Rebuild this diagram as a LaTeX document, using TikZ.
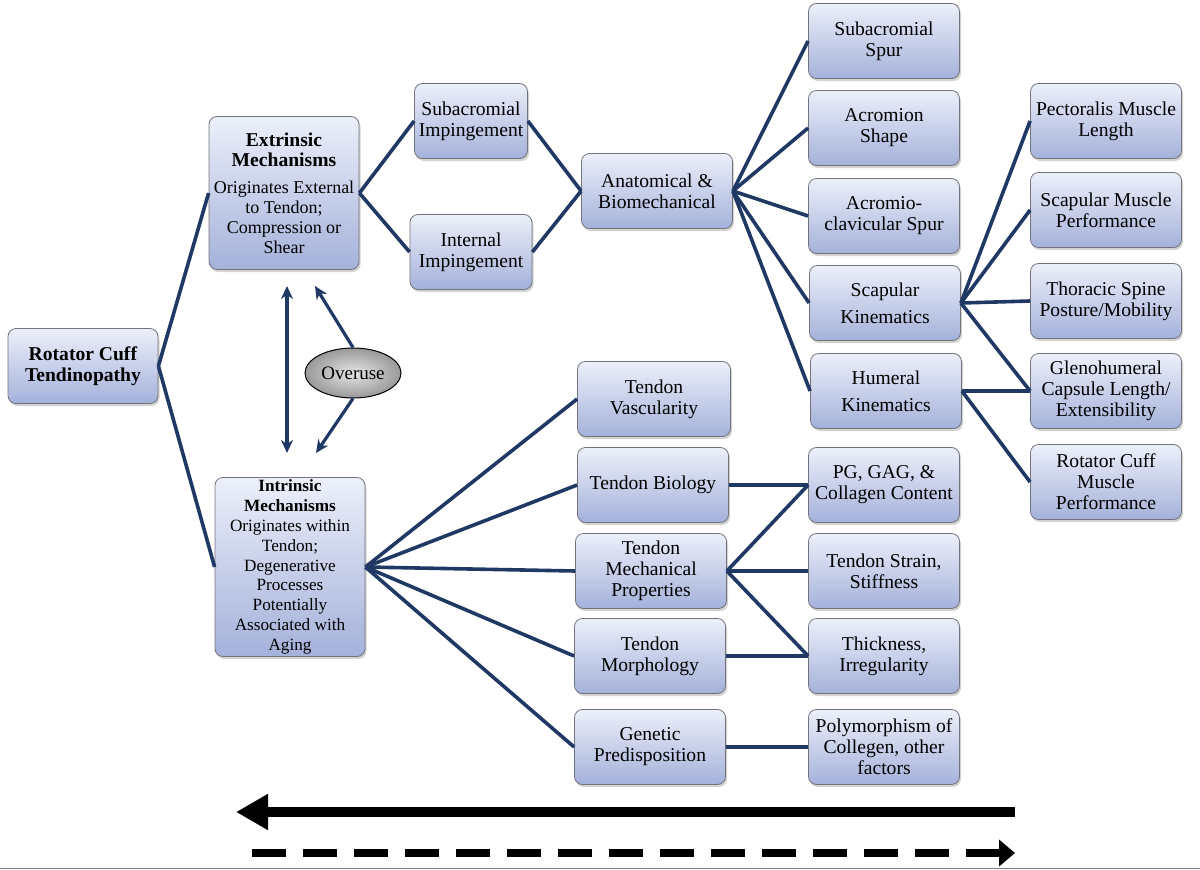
\documentclass[tikz,border=0pt]{standalone}
\usepackage{fontspec}
\setmainfont{Liberation Serif}
\usetikzlibrary{shadows,arrows.meta,shapes.geometric}
\definecolor{navy}{RGB}{31,56,100}
\definecolor{boxtop}{RGB}{236,240,250}
\definecolor{boxbot}{RGB}{164,177,218}
\definecolor{boxline}{RGB}{115,115,125}
\newcommand{\bigbf}[1]{\textbf{\fontsize{19.6}{20}\selectfont #1}}
\tikzset{
  box/.style={draw=boxline, line width=0.8pt, rounded corners=8pt,
    top color=boxtop, bottom color=boxbot, minimum width=151pt, minimum height=75pt,
    align=center, inner sep=1pt, text=black,
    drop shadow={opacity=0.35, shadow xshift=1.5pt, shadow yshift=-2.5pt},
    font=\fontsize{19.6}{21}\selectfont},
  link/.style={draw=navy, line width=3.6pt},
  navarrow/.style={draw=navy, line width=3.2pt},
  ovalstyle/.style={ellipse, draw=black, line width=1pt, minimum width=96pt, minimum height=50pt,
    inner color=gray!20, outer color=gray!80, inner sep=0pt, font=\fontsize{19}{21}\selectfont}
}
\begin{document}
\begin{tikzpicture}[x=1pt,y=-1pt]
\useasboundingbox (0,0) rectangle (1200,870);
% nodes
\node[box, minimum width=150pt] (rct) at (83,366) {\textbf{Rotator Cuff}\\\textbf{Tendinopathy}};
\node[box, minimum width=150pt, minimum height=153pt, font=\fontsize{18}{20}\selectfont] (ext) at (284,193) {\bigbf{Extrinsic}\\\bigbf{Mechanisms}\\[7pt]Originates External\\to Tendon;\\Compression or\\Shear};
\node[box, minimum width=150pt, minimum height=179pt, font=\fontsize{17.2}{19.8}\selectfont] (intr) at (290,567) {\textbf{Intrinsic}\\\textbf{Mechanisms}\\Originates within\\Tendon;\\Degenerative\\Processes\\Potentially\\Associated with\\Aging};
\node[box, minimum width=113pt] (subimp) at (471,121) {Subacromial\\Impingement};
\node[box, minimum width=122pt] (intimp) at (471,252) {Internal\\Impingement};
\node[box] (anat) at (657,191) {Anatomical \&\\Biomechanical};
\node[box] (sspur) at (884,41) {Subacromial\\Spur};
\node[box] (ashape) at (884,128) {Acromion\\Shape};
\node[box] (acspur) at (884,216) {Acromio-\\clavicular Spur};
\node[box] (scap) at (885,303) {Scapular\\[6pt]Kinematics};
\node[box] (hum) at (886,391) {Humeral\\[6pt]Kinematics};
\node[box] (pect) at (1106,121) {Pectoralis Muscle\\Length};
\node[box] (smp) at (1106,210) {Scapular Muscle\\Performance};
\node[box] (thor) at (1106,301) {Thoracic Spine\\Posture/Mobility};
\node[box] (gleno) at (1106,391) {Glenohumeral\\Capsule Length/\\Extensibility};
\node[box] (rcmp) at (1106,482) {Rotator Cuff\\Muscle\\Performance};
\node[box, minimum width=153pt] (tvasc) at (654,399) {Tendon\\Vascularity};
\node[box] (tbio) at (653,485) {Tendon Biology};
\node[box] (tmech) at (651,571) {Tendon\\Mechanical\\Properties};
\node[box] (tmorph) at (650,656) {Tendon\\Morphology};
\node[box] (tgen) at (650,747) {Genetic\\Predisposition};
\node[box] (pg) at (884,485) {PG, GAG, \&\\Collagen Content};
\node[box] (strain) at (884,571) {Tendon Strain,\\Stiffness};
\node[box] (thick) at (884,656) {Thickness,\\Irregularity};
\node[box] (poly) at (884,747) {Polymorphism of\\Collegen, other\\factors};
\node[ovalstyle] (ov) at (353,373) {Overuse};
% connectors
\draw[link] (rct.east) -- (ext.west);
\draw[link] (rct.east) -- (intr.west);
\draw[link] (ext.east) -- (subimp.west);
\draw[link] (ext.east) -- (intimp.west);
\draw[link] (subimp.east) -- (anat.west);
\draw[link] (intimp.east) -- (anat.west);
\foreach \t in {sspur,ashape,acspur,scap,hum} \draw[link] (anat.east) -- (\t.west);
\foreach \t in {pect,smp,thor,gleno} \draw[link] (scap.east) -- (\t.west);
\draw[link] (hum.east) -- (gleno.west);
\draw[link] (hum.east) -- (rcmp.west);
\foreach \t in {tvasc,tbio,tmech,tmorph,tgen} \draw[link] (intr.east) -- (\t.west);
\draw[link] (tbio.east) -- (pg.west);
\draw[link] (tmech.east) -- (pg.west);
\draw[link] (tmech.east) -- (strain.west);
\draw[link] (tmech.east) -- (thick.west);
\draw[link] (tmorph.east) -- (thick.west);
\draw[link] (tgen.east) -- (poly.west);
% arrows between mechanisms
\coordinate (dtop) at (287,286);
\coordinate (dbot) at (287,453);
\coordinate (otop) at (315,286);
\coordinate (obot) at (316,453);
\draw[navarrow, {Stealth[length=13pt,width=12pt]}-{Stealth[length=13pt,width=12pt]}] (dtop) -- (dbot);
\draw[navarrow, -{Stealth[length=13pt,width=12pt]}] (ov.north) -- (otop);
\draw[navarrow, -{Stealth[length=13pt,width=12pt]}] (ov.south) -- (obot);
% bottom arrows
\coordinate (b1s) at (1015,812);
\coordinate (b1e) at (236,812);
\coordinate (b2s) at (252,853);
\coordinate (b2e) at (1015,853);
\draw[line width=10pt, -{Triangle[length=32pt,width=34pt]}] (b1s) -- (b1e);
\draw[line width=8pt, dash pattern=on 34pt off 17pt, -{Triangle[length=16pt,width=26pt]}] (b2s) -- (b2e);
\coordinate (gl) at (0,868.5);
\coordinate (gr) at (1200,868.5);
\draw[gray, line width=1.5pt] (gl) -- (gr);
\end{tikzpicture}
\end{document}
